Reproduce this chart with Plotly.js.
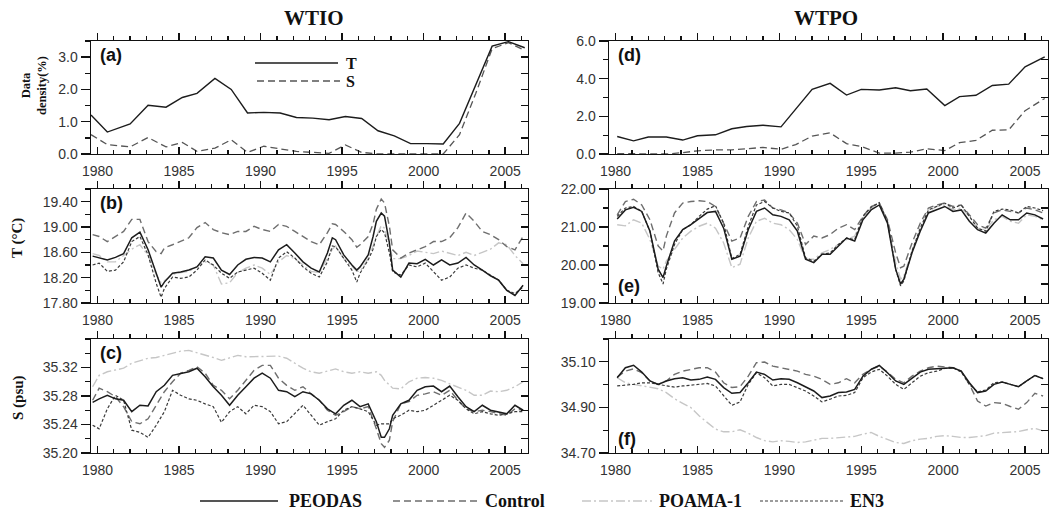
<!DOCTYPE html>
<html><head><meta charset="utf-8">
<script src="https://cdn.plot.ly/plotly-3.0.1.min.js"></script>
<style>html,body{margin:0;padding:0;background:#fff}#chart{width:1054px;height:516px}</style>
</head><body><div id="chart"></div>
<script>
// ---------- DATA ----------
// (a) WTIO data density (%)
const yearsA = [1979.6,1980.6,1982.0,1983.1,1984.2,1985.2,1986.1,1987.2,1988.2,1989.2,1990.2,1991.2,1992.2,1993.2,1994.2,1995.2,1996.2,1997.2,1998.2,1999.2,2000.2,2001.2,2002.2,2003.2,2004.2,2005.2,2006.2];
const densT_WTIO = [1.21,0.68,0.93,1.51,1.45,1.75,1.88,2.34,2.0,1.27,1.29,1.27,1.13,1.11,1.06,1.16,1.10,0.72,0.56,0.32,0.32,0.31,0.95,2.13,3.34,3.48,3.29];
const densS_WTIO = [0.60,0.29,0.22,0.51,0.22,0.36,0.08,0.18,0.44,0.05,0.24,0.16,0.08,0.05,0.02,0.28,0.05,0.0,0.0,0.0,0.0,0.0,0.60,1.88,3.26,3.45,3.21];

// (d) WTPO data density (%)
const yearsD = [1980.1,1981.1,1982.0,1983.1,1984.1,1985.0,1986.1,1987.1,1988.0,1989.0,1990.1,1991.0,1992.0,1993.1,1994.1,1995.0,1996.1,1997.1,1998.0,1999.0,2000.1,2001.0,2002.0,2003.0,2004.0,2005.0,2006.2];
const densT_WTPO = [0.93,0.70,0.90,0.90,0.74,0.97,1.02,1.34,1.46,1.53,1.44,2.39,3.43,3.75,3.13,3.43,3.40,3.52,3.36,3.45,2.57,3.05,3.12,3.64,3.71,4.63,5.16];
const densS_WTPO = [0.02,0.02,0.02,0.0,0.07,0.17,0.22,0.22,0.28,0.35,0.25,0.50,0.95,1.12,0.55,0.40,0.05,0.05,0.10,0.28,0.18,0.60,0.72,1.26,1.28,2.30,2.95];

// (b) WTIO temperature (°C)
const yearsB = [1979.7,1980.1,1980.6,1981.1,1981.6,1982.1,1982.6,1983.1,1983.6,1983.9,1984.1,1984.6,1985.1,1985.6,1986.1,1986.6,1987.1,1987.6,1988.1,1988.6,1989.1,1989.6,1990.1,1990.6,1991.1,1991.6,1992.1,1992.6,1993.1,1993.6,1994.1,1994.4,1994.6,1995.1,1995.6,1995.9,1996.1,1996.6,1996.9,1997.1,1997.4,1997.6,1997.9,1998.1,1998.6,1999.1,1999.6,2000.1,2000.6,2001.1,2001.6,2002.1,2002.6,2003.1,2003.6,2004.1,2004.6,2005.1,2005.6,2006.1];
const tWTIO_PEODAS = [18.54,18.51,18.48,18.52,18.58,18.83,18.92,18.64,18.27,18.05,18.13,18.27,18.29,18.32,18.37,18.53,18.51,18.32,18.25,18.40,18.49,18.52,18.51,18.45,18.64,18.72,18.59,18.45,18.35,18.29,18.59,18.83,18.80,18.56,18.40,18.32,18.37,18.56,18.85,19.09,19.22,19.17,18.75,18.32,18.21,18.43,18.42,18.49,18.40,18.48,18.40,18.43,18.52,18.40,18.32,18.23,18.16,18.00,17.92,18.08];
const tWTIO_Control = [18.88,18.85,18.77,18.85,18.93,19.12,19.12,18.77,18.61,18.58,18.67,18.72,18.77,18.83,18.99,19.07,18.96,18.91,18.88,18.93,18.93,19.01,18.96,18.93,19.04,19.01,18.93,18.85,18.77,18.72,18.91,19.05,19.04,18.93,18.80,18.68,18.72,18.85,19.05,19.28,19.44,19.38,19.01,18.64,18.51,18.59,18.64,18.69,18.77,18.77,18.83,18.99,19.22,19.09,18.93,18.88,18.80,18.69,18.64,18.85];
const tWTIO_POAMA = [18.58,18.55,18.45,18.45,18.55,18.65,18.72,18.55,18.25,18.12,18.15,18.25,18.28,18.30,18.38,18.45,18.40,18.10,18.12,18.28,18.35,18.40,18.35,18.25,18.45,18.55,18.50,18.40,18.30,18.28,18.50,18.65,18.70,18.50,18.38,18.30,18.30,18.50,18.70,18.85,19.02,18.98,18.70,18.50,18.50,18.55,18.62,18.60,18.58,18.62,18.58,18.55,18.60,18.55,18.60,18.65,18.75,18.72,18.55,18.42];
const tWTIO_EN3 = [18.40,18.43,18.30,18.32,18.45,18.77,18.85,18.56,18.11,17.89,18.03,18.21,18.19,18.21,18.32,18.48,18.40,18.27,18.19,18.29,18.32,18.35,18.27,18.16,18.51,18.61,18.51,18.37,18.27,18.21,18.45,18.70,18.69,18.51,18.32,18.13,18.27,18.48,18.65,18.85,18.96,18.91,18.59,18.29,18.24,18.40,18.37,18.43,18.29,18.16,18.21,18.35,18.40,18.35,18.32,18.24,18.16,18.00,17.95,18.05];

// (c) WTIO salinity (psu)
const yearsC = [1979.7,1980.1,1980.6,1981.1,1981.6,1982.1,1982.6,1983.1,1983.6,1984.1,1984.6,1985.1,1985.6,1986.1,1986.6,1987.1,1987.6,1988.1,1988.6,1989.1,1989.6,1990.1,1990.6,1991.1,1991.6,1992.1,1992.6,1993.1,1993.6,1994.1,1994.6,1995.1,1995.6,1996.1,1996.6,1997.1,1997.4,1997.6,1997.9,1998.1,1998.6,1999.1,1999.6,2000.1,2000.6,2001.1,2001.6,2002.1,2002.6,2003.1,2003.6,2004.1,2004.6,2005.1,2005.6,2006.1];
const sWTIO_PEODAS = [35.271,35.276,35.281,35.276,35.274,35.258,35.267,35.266,35.286,35.295,35.309,35.312,35.314,35.319,35.307,35.293,35.281,35.267,35.281,35.293,35.305,35.312,35.305,35.288,35.286,35.279,35.286,35.283,35.274,35.262,35.255,35.267,35.274,35.265,35.269,35.244,35.222,35.222,35.234,35.253,35.269,35.274,35.288,35.293,35.294,35.286,35.294,35.279,35.265,35.258,35.267,35.260,35.258,35.255,35.267,35.260];
const sWTIO_Control = [35.274,35.291,35.286,35.279,35.265,35.244,35.241,35.248,35.267,35.286,35.300,35.312,35.316,35.321,35.312,35.295,35.288,35.276,35.288,35.302,35.316,35.323,35.323,35.305,35.295,35.288,35.293,35.283,35.274,35.260,35.253,35.258,35.265,35.262,35.265,35.234,35.213,35.208,35.218,35.244,35.269,35.272,35.281,35.283,35.286,35.281,35.288,35.274,35.262,35.258,35.260,35.258,35.255,35.253,35.262,35.260];
const sWTIO_POAMA = [35.293,35.309,35.314,35.316,35.319,35.326,35.330,35.333,35.334,35.337,35.341,35.343,35.344,35.341,35.338,35.334,35.330,35.333,35.337,35.335,35.335,35.336,35.335,35.336,35.333,35.326,35.319,35.314,35.312,35.315,35.318,35.314,35.312,35.314,35.312,35.314,35.309,35.302,35.295,35.291,35.290,35.300,35.305,35.306,35.305,35.302,35.297,35.293,35.288,35.281,35.281,35.287,35.286,35.288,35.293,35.300];
const sWTIO_EN3 = [35.239,35.234,35.262,35.281,35.274,35.232,35.229,35.222,35.239,35.258,35.288,35.281,35.276,35.274,35.269,35.265,35.243,35.258,35.265,35.255,35.267,35.265,35.258,35.241,35.244,35.255,35.267,35.253,35.239,35.244,35.248,35.260,35.265,35.262,35.258,35.239,35.241,35.241,35.241,35.248,35.253,35.260,35.258,35.260,35.267,35.274,35.281,35.274,35.262,35.255,35.258,35.255,35.253,35.255,35.258,35.258];

// (e) WTPO temperature (°C)
const yearsE = [1980.1,1980.6,1981.1,1981.6,1982.1,1982.6,1982.9,1983.1,1983.6,1984.1,1984.6,1985.1,1985.6,1986.1,1986.6,1987.1,1987.6,1988.1,1988.6,1989.1,1989.6,1990.1,1990.6,1991.1,1991.6,1992.1,1992.6,1993.1,1993.6,1994.1,1994.6,1995.1,1995.6,1996.1,1996.6,1997.1,1997.4,1997.6,1998.1,1998.6,1999.1,1999.6,2000.1,2000.6,2001.1,2001.6,2002.1,2002.6,2003.1,2003.6,2004.1,2004.6,2005.1,2005.6,2006.1];
const tWTPO_PEODAS = [21.21,21.45,21.52,21.41,20.89,19.89,19.67,19.97,20.63,20.93,21.06,21.23,21.38,21.41,20.97,20.15,20.23,20.93,21.41,21.50,21.32,21.28,21.19,20.89,20.15,20.06,20.28,20.28,20.50,20.71,20.63,21.19,21.45,21.58,21.10,19.89,19.50,19.63,20.32,20.89,21.37,21.45,21.54,21.41,21.45,21.15,20.93,20.84,21.10,21.32,21.19,21.19,21.37,21.32,21.21];
const tWTPO_Control = [21.32,21.67,21.73,21.58,21.19,20.50,20.37,20.76,21.37,21.63,21.67,21.69,21.67,21.54,21.10,20.63,20.71,21.28,21.67,21.71,21.50,21.45,21.37,21.10,20.54,20.76,20.71,20.80,20.97,21.06,20.93,21.28,21.54,21.63,21.19,20.32,19.93,19.97,20.58,21.10,21.50,21.58,21.63,21.54,21.58,21.32,21.06,20.97,21.37,21.45,21.41,21.37,21.50,21.45,21.37];
const tWTPO_POAMA = [21.06,21.03,21.19,21.10,20.67,19.97,19.89,20.10,20.41,20.71,20.89,21.02,21.10,20.97,20.58,19.93,20.02,20.71,21.15,21.23,21.10,21.06,20.93,20.67,20.15,20.15,20.32,20.41,20.54,20.67,20.76,21.23,21.50,21.63,21.15,20.06,19.63,19.71,20.37,20.93,21.41,21.54,21.58,21.45,21.50,21.28,20.97,20.93,21.19,21.28,21.15,21.10,21.32,21.28,21.19];
const tWTPO_EN3 = [21.28,21.50,21.54,21.41,20.89,19.80,19.50,19.89,20.54,20.93,21.06,21.28,21.47,21.56,21.10,20.17,20.28,21.02,21.58,21.67,21.50,21.41,21.37,21.02,20.19,20.10,20.28,20.32,20.54,20.71,20.67,21.28,21.52,21.64,21.15,19.89,19.45,19.58,20.37,20.97,21.45,21.54,21.63,21.50,21.58,21.28,20.97,20.89,21.41,21.47,21.45,21.37,21.54,21.50,21.43];

// (f) WTPO salinity (psu)
const yearsF = [1980.1,1980.6,1981.1,1981.6,1982.1,1982.6,1983.1,1983.6,1984.1,1984.6,1985.1,1985.6,1986.1,1986.6,1987.1,1987.6,1988.1,1988.6,1989.1,1989.6,1990.1,1990.6,1991.1,1991.6,1992.1,1992.6,1993.1,1993.6,1994.1,1994.6,1995.1,1995.6,1996.1,1996.6,1997.1,1997.6,1998.1,1998.6,1999.1,1999.6,2000.1,2000.6,2001.1,2001.6,2002.1,2002.6,2003.1,2003.6,2004.1,2004.6,2005.1,2005.6,2006.1];
const sWTPO_PEODAS = [35.030,35.074,35.085,35.055,35.016,35.001,35.016,35.026,35.030,35.020,35.023,35.033,35.023,34.987,34.962,34.965,35.008,35.055,35.045,35.020,35.026,35.023,35.008,34.989,34.972,34.943,34.950,34.965,34.968,34.979,35.037,35.067,35.084,35.052,35.016,35.001,35.030,35.055,35.067,35.069,35.074,35.074,35.059,35.008,34.965,34.972,35.001,35.011,35.001,34.991,35.016,35.040,35.026];
const sWTPO_Control = [35.033,35.059,35.069,35.052,35.016,35.001,35.016,35.045,35.059,35.067,35.074,35.074,35.055,35.008,34.987,34.991,35.037,35.096,35.099,35.081,35.074,35.069,35.059,35.045,35.037,35.023,35.001,35.008,35.026,35.008,35.045,35.067,35.081,35.055,35.023,35.008,35.037,35.059,35.074,35.081,35.078,35.074,35.059,35.001,34.928,34.906,34.921,34.918,34.904,34.892,34.921,34.962,34.950];
const sWTPO_POAMA = [35.030,35.008,35.001,34.994,34.987,34.982,34.965,34.938,34.918,34.899,34.863,34.834,34.805,34.793,34.793,34.802,34.787,34.768,34.754,34.749,34.754,34.751,34.746,34.749,34.758,34.764,34.764,34.767,34.767,34.773,34.783,34.790,34.773,34.758,34.746,34.742,34.754,34.761,34.764,34.773,34.776,34.773,34.768,34.768,34.773,34.776,34.787,34.790,34.790,34.794,34.802,34.808,34.797];
const sWTPO_EN3 = [34.994,34.997,35.001,35.008,35.008,35.001,34.994,34.989,34.994,34.997,35.001,35.005,34.994,34.950,34.909,34.924,35.001,35.052,35.030,34.994,35.001,35.001,34.987,34.972,34.950,34.924,34.936,34.950,34.953,34.965,35.030,35.055,35.067,35.037,35.001,34.979,35.008,35.037,35.052,35.059,35.071,35.074,35.055,35.001,34.968,34.976,35.008,35.011,35.001,34.991,35.016,35.040,35.026];

const seriesNames = ['PEODAS','Control','POAMA-1','EN3'];
const regionTitles = ['WTIO','WTPO'];
const panelLabels = ['(a)','(b)','(c)','(d)','(e)','(f)'];

// ---------- STYLE ----------
const W = 1054, H = 516;
const px = x => x / W, py = y => 1 - y / H;
const sty = {
  'PEODAS':  {color:'#1c1c1c', width:1.5, dash:'solid'},
  'Control': {color:'#6e6e6e', width:1.4, dash:'7px,4px'},
  'POAMA-1': {color:'#c6c6c6', width:1.4, dash:'9px,3px,2px,3px'},
  'EN3':     {color:'#3a3a3a', width:1.2, dash:'3px,2px'}
};
const densSty = {T:{color:'#1c1c1c', width:1.4, dash:'solid'}, S:{color:'#555', width:1.3, dash:'7px,4px'}};
const tickFont = {family:'Liberation Sans, Arial, sans-serif', size:14, color:'#333'};
const serif = 'Liberation Serif, Times New Roman, serif';
const AX = '#111';

const colX = [[91,528],[609,1048]];
const rowY = [[41,154],[189,303],[339,453]];
const xRange = [1979.6, 2006.4];

const panels = [
  {col:0,row:0, range:[0,3.5], tickvals:[0,1,2,3], fmt:'.1f', minor:0.5, tick0:0},
  {col:0,row:1, range:[17.8,19.6], tickvals:[17.8,18.2,18.6,19.0,19.4], fmt:'.2f', minor:0.2, tick0:17.8},
  {col:0,row:2, range:[35.2,35.36], tickvals:[35.20,35.24,35.28,35.32], fmt:'.2f', minor:0.02, tick0:35.2},
  {col:1,row:0, range:[0,6], tickvals:[0,2,4,6], fmt:'.1f', minor:1, tick0:0},
  {col:1,row:1, range:[19,22], tickvals:[19,20,21,22], fmt:'.2f', minor:0.5, tick0:19},
  {col:1,row:2, range:[34.7,35.2], tickvals:[34.7,34.9,35.1], fmt:'.2f', minor:0.1, tick0:34.7}
];

const layout = {
  width:W, height:H, margin:{l:0,r:0,t:0,b:0},
  paper_bgcolor:'#fff', plot_bgcolor:'#fff', showlegend:false,
  annotations:[], shapes:[]
};
const idx = n => n === 1 ? '' : String(n);
const data = [];

panels.forEach((p, i) => {
  const n = i + 1;
  const xd = [px(colX[p.col][0]), px(colX[p.col][1])];
  const yd = [py(rowY[p.row][1]), py(rowY[p.row][0])];
  layout['xaxis' + idx(n)] = {
    domain:xd, anchor:'y' + idx(n), range:xRange, fixedrange:true,
    showline:true, mirror:true, linecolor:AX, linewidth:1.4,
    ticks:'inside', ticklen:7, tickwidth:1.5, tickcolor:AX,
    tickmode:'linear', tick0:1980, dtick:5,
    minor:{ticks:'inside', ticklen:4, tickwidth:1.3, tickcolor:AX, dtick:1, tick0:1980},
    showgrid:false, zeroline:false, tickfont:tickFont, ticklabelstandoff:4
  };
  layout['yaxis' + idx(n)] = {
    domain:yd, anchor:'x' + idx(n), range:p.range, fixedrange:true,
    showline:true, mirror:true, linecolor:AX, linewidth:1.4,
    ticks:'outside', ticklen:9, tickwidth:1.4, tickcolor:AX,
    tickmode:'array', tickvals:p.tickvals, tickformat:p.fmt,
    minor:{ticks:'outside', ticklen:5, tickwidth:1.3, tickcolor:AX, dtick:p.minor, tick0:p.tick0},
    showgrid:false, zeroline:false, tickfont:tickFont
  };
  // top ticks (pointing outward) and right ticks (pointing inward)
  layout['xaxis' + (n + 6)] = {
    overlaying:'x' + idx(n), side:'top', anchor:'y' + idx(n), range:xRange, fixedrange:true,
    showline:false, ticks:'outside', ticklen:7, tickwidth:1.5, tickcolor:AX,
    tickmode:'linear', tick0:1980, dtick:5, showticklabels:false,
    minor:{ticks:'outside', ticklen:4, tickwidth:1.3, tickcolor:AX, dtick:1, tick0:1980},
    showgrid:false, zeroline:false
  };
  layout['yaxis' + (n + 6)] = {
    overlaying:'y' + idx(n), side:'right', anchor:'x' + idx(n), range:p.range, fixedrange:true,
    showline:false, ticks:'inside', ticklen:7, tickwidth:1.3, tickcolor:AX,
    tickmode:'linear', tick0:p.tick0, dtick:p.minor, showticklabels:false,
    showgrid:false, zeroline:false
  };
  // placeholder traces (no drawn marks) so the tick-only axes are created
  data.push({type:'scatter', mode:'lines', x:[null], y:[null], xaxis:'x' + (n + 6), yaxis:'y' + idx(n), hoverinfo:'skip', line:{width:0}});
  data.push({type:'scatter', mode:'lines', x:[null], y:[null], xaxis:'x' + idx(n), yaxis:'y' + (n + 6), hoverinfo:'skip', line:{width:0}});
  layout.annotations.push({
    xref:'paper', yref:'paper', x:px(colX[p.col][0] + 7),
    y: n === 5 ? py(286) : n === 6 ? py(439) : py(rowY[p.row][0] + 14),
    xanchor:'left', yanchor:'middle', showarrow:false,
    text:'<b>' + panelLabels[i] + '</b>',
    font:{family:'Liberation Sans, Arial, sans-serif', size:18, color:'#111'}
  });
});

// ---------- TRACES ----------
function addLine(n, x, y, s) {
  data.push({type:'scatter', mode:'lines', x:x, y:y,
    xaxis:'x' + idx(n), yaxis:'y' + idx(n),
    line:{color:s.color, width:s.width, dash:s.dash}, hoverinfo:'skip'});
}
addLine(1, yearsA, densS_WTIO, densSty.S);
addLine(1, yearsA, densT_WTIO, densSty.T);
addLine(4, yearsD, densS_WTPO, densSty.S);
addLine(4, yearsD, densT_WTPO, densSty.T);

const groups = [
  {n:2, x:yearsB, s:{'PEODAS':tWTIO_PEODAS,'Control':tWTIO_Control,'POAMA-1':tWTIO_POAMA,'EN3':tWTIO_EN3}},
  {n:3, x:yearsC, s:{'PEODAS':sWTIO_PEODAS,'Control':sWTIO_Control,'POAMA-1':sWTIO_POAMA,'EN3':sWTIO_EN3}},
  {n:5, x:yearsE, s:{'PEODAS':tWTPO_PEODAS,'Control':tWTPO_Control,'POAMA-1':tWTPO_POAMA,'EN3':tWTPO_EN3}},
  {n:6, x:yearsF, s:{'PEODAS':sWTPO_PEODAS,'Control':sWTPO_Control,'POAMA-1':sWTPO_POAMA,'EN3':sWTPO_EN3}}
];
const drawOrder = ['POAMA-1','Control','EN3','PEODAS'];
groups.forEach(g => drawOrder.forEach(name => addLine(g.n, g.x, g.s[name], sty[name])));

// ---------- TITLES / LABELS ----------
const A = layout.annotations;
A.push({xref:'paper', yref:'paper', x:px(314), y:py(18), xanchor:'center', yanchor:'middle', showarrow:false,
  text:'<b>' + regionTitles[0] + '</b>', font:{family:serif, size:21, color:'#111'}});
A.push({xref:'paper', yref:'paper', x:px(826), y:py(18), xanchor:'center', yanchor:'middle', showarrow:false,
  text:'<b>' + regionTitles[1] + '</b>', font:{family:serif, size:21, color:'#111'}});
A.push({xref:'paper', yref:'paper', x:px(34), y:py(86), xanchor:'center', yanchor:'middle', showarrow:false,
  textangle:-90, text:'<b>Data<br>density(%)</b>', font:{family:serif, size:12.5, color:'#111'}});
A.push({xref:'paper', yref:'paper', x:px(18), y:py(238), xanchor:'center', yanchor:'middle', showarrow:false,
  textangle:-90, text:'<b>T (°C)</b>', font:{family:serif, size:15, color:'#111'}});
A.push({xref:'paper', yref:'paper', x:px(18), y:py(398), xanchor:'center', yanchor:'middle', showarrow:false,
  textangle:-90, text:'<b>S (psu)</b>', font:{family:serif, size:15, color:'#111'}});

// in-panel legend of (a)
const S = layout.shapes;
S.push({type:'line', xref:'paper', yref:'paper', x0:px(255), x1:px(338), y0:py(63), y1:py(63),
  line:{color:densSty.T.color, width:1.3, dash:'solid'}});
S.push({type:'line', xref:'paper', yref:'paper', x0:px(257), x1:px(340), y0:py(81), y1:py(81),
  line:{color:densSty.S.color, width:1.3, dash:densSty.S.dash}});
A.push({xref:'paper', yref:'paper', x:px(344), y:py(63), xanchor:'left', yanchor:'middle', showarrow:false,
  text:'<b>T</b>', font:{family:serif, size:16, color:'#111'}});
A.push({xref:'paper', yref:'paper', x:px(344), y:py(81), xanchor:'left', yanchor:'middle', showarrow:false,
  text:'<b>S</b>', font:{family:serif, size:16, color:'#111'}});

// bottom legend
const legY = 501;
const legItems = [
  {name:'PEODAS', x0:200, x1:278, tx:287},
  {name:'Control', x0:393, x1:478, tx:483},
  {name:'POAMA-1', x0:582, x1:652, tx:657},
  {name:'EN3', x0:760, x1:843, tx:848}
];
legItems.forEach((it, k) => {
  const s = sty[seriesNames[k]];
  S.push({type:'line', xref:'paper', yref:'paper', x0:px(it.x0), x1:px(it.x1), y0:py(legY), y1:py(legY),
    line:{color:s.color, width:s.width, dash:s.dash}});
  A.push({xref:'paper', yref:'paper', x:px(it.tx), y:py(legY), xanchor:'left', yanchor:'middle', showarrow:false,
    text:'<b>' + seriesNames[k] + '</b>', font:{family:serif, size:18, color:'#111'}});
});

Plotly.newPlot('chart', data, layout, {staticPlot:true, displayModeBar:false});
</script></body></html>
